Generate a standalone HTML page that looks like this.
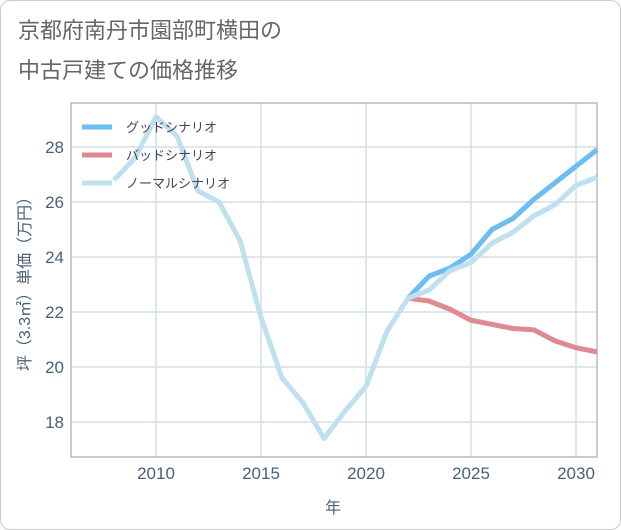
<!DOCTYPE html>
<html><head><meta charset="utf-8"><style>
body{margin:0;background:#fff;}
#card{position:absolute;left:0;top:0;width:619px;height:528px;border:1px solid #ccc;border-radius:10px;background:#fff;}
.t{font-family:"Liberation Sans","Noto Sans CJK JP",sans-serif;}
</style></head><body>
<div id="card"></div>
<svg width="621" height="530" style="position:absolute;left:0;top:0">
<text class="t" x="18" y="38" font-size="22" fill="#666">京都府南丹市園部町横田の</text>
<text class="t" x="18" y="78" font-size="22" fill="#666">中古戸建ての価格推移</text>
<g id="grid"></g>
<rect x="71" y="103" width="526" height="354" fill="none" stroke="#999" stroke-width="1"/>
<g id="series"></g>
<g id="ticks"></g>
<text class="t" x="333" y="513" font-size="16" fill="#4a6076" text-anchor="middle">年</text>
<text class="t" font-size="16" fill="#4a6076" text-anchor="middle" transform="translate(30,280) rotate(-90)">坪（3.3㎡）単価（万円）</text>
<g id="legend"></g>
</svg>
<script>
const years=[2008,2009,2010,2011,2012,2013,2014,2015,2016,2017,2018,2019,2020,2021,2022,2023,2024,2025,2026,2027,2028,2029,2030,2031];
const normal=[26.8,27.6,29.1,28.4,26.4,26.0,24.6,21.8,19.6,18.7,17.4,18.4,19.3,21.3,22.5,22.8,23.5,23.8,24.5,24.9,25.5,25.9,26.6,26.9];
const goodYears=[2022,2023,2024,2025,2026,2027,2028,2029,2030,2031];
const good=[22.5,23.3,23.6,24.1,25.0,25.4,26.1,26.7,27.3,27.9];
const bad=[22.5,22.4,22.1,21.7,21.55,21.4,21.35,20.95,20.7,20.55];
const xTicks=[2010,2015,2020,2025,2030];
const yTicks=[18,20,22,24,26,28];
const X=y=>72+(y-2006)*21;
const Y=v=>147+(28-v)*27.5;
const NS='http://www.w3.org/2000/svg';
function mk(t,a,p){const e=document.createElementNS(NS,t);for(const k in a)e.setAttribute(k,a[k]);p.appendChild(e);return e;}
const grid=document.getElementById('grid'),ticks=document.getElementById('ticks'),ser=document.getElementById('series'),leg=document.getElementById('legend');
xTicks.forEach(t=>{
 const l=mk('line',{x1:X(t),x2:X(t),y1:103,y2:457,stroke:'#d3dfe8','stroke-width':1.5},grid);
 
 
 const s=mk('text',{x:X(t),y:479,'font-size':17,fill:'#4a6076','text-anchor':'middle',class:'t'},ticks);s.textContent=t;
 
 
});
yTicks.forEach(t=>{
 const l=mk('line',{x1:71,x2:597,y1:Y(t),y2:Y(t),stroke:'#d3dfe8','stroke-width':1.5},grid);
 
 
 const s=mk('text',{x:64,y:Y(t)+6,'font-size':17,fill:'#4a6076','text-anchor':'end',class:'t'},ticks);s.textContent=t;
 
 
});
function line(xs,vs,c,n){const p=mk('polyline',{points:xs.map((x,i)=>X(x)+','+Y(vs[i])).join(' '),fill:'none',stroke:c,'stroke-width':5,'stroke-linejoin':'round'},ser);
 
 }
line(goodYears,bad,'#de8a90','bad-scenario-line');
line(goodYears,good,'#6bbdf2','good-scenario-line');
line(years,normal,'#bfe0ee','normal-scenario-line');
const lg=[['グッドシナリオ','#6bbdf2'],['バッドシナリオ','#de8a90'],['ノーマルシナリオ','#bfe0ee']];
lg.forEach((d,i)=>{const y=127+i*28;
 const l=mk('line',{x1:82,x2:112,y1:y,y2:y,stroke:d[1],'stroke-width':5},leg);
 
 
 const s=mk('text',{x:126,y:y+5,'font-size':13,fill:'#445',class:'t'},leg);s.textContent=d[0];
 
 
});
</script>
</body></html>
